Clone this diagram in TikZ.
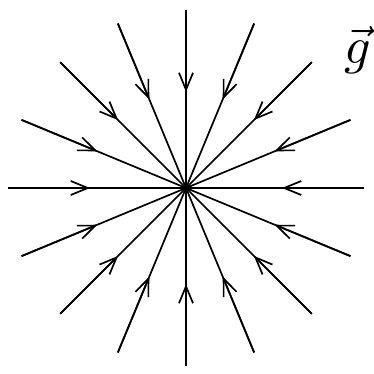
\documentclass[tikz,border=0pt]{standalone}
\usetikzlibrary{arrows.meta}
\begin{document}
\begin{tikzpicture}[x=1pt,y=1pt,
  ray/.style={line width=1.7pt},
  raytip/.style={line width=1.7pt,-{Straight Barb[length=17pt,width=14pt]}}]
\useasboundingbox (-186,-185) rectangle (188,188);
\coordinate (o) at (0,0);
\foreach \k in {0,...,15}{
  \coordinate (p\k) at ({\k*22.5}:178);
  \coordinate (a\k) at ({\k*22.5}:96);
  \draw[ray] (p\k) -- (o);
  \draw[raytip] (p\k) -- (a\k);
}
\node[scale=5.2] (g) at (172,138) {$\vec{g}$};
\end{tikzpicture}
\end{document}
